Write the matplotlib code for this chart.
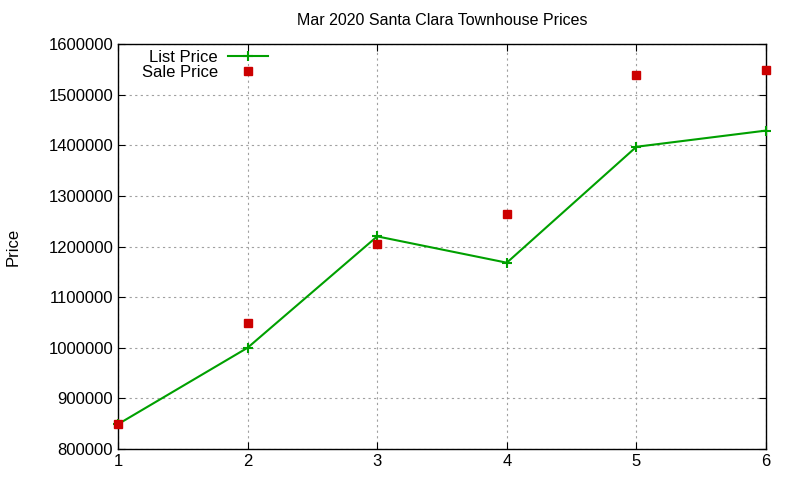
import matplotlib
matplotlib.use("Agg")
import matplotlib.pyplot as plt

plt.rcParams['font.family'] = ['Liberation Sans', 'DejaVu Sans']

# listing index vs prices
list_x = [1, 2, 3, 4, 5, 6]
list_price = [849000, 1000000, 1220000, 1168000, 1397000, 1429000]

sale_x = [1, 2, 3, 4, 5, 6]
sale_price = [849000, 1049000, 1205000, 1264000, 1539000, 1549000]

yticks = [800000, 900000, 1000000, 1100000, 1200000, 1300000, 1400000, 1500000, 1600000]

fig = plt.figure(figsize=(8, 4.8), dpi=100)
ax = fig.add_axes([0.1475, 0.0646, 0.81, 0.8437])

ax.plot(list_x, list_price, color='#00a000', linewidth=1.5, marker='+',
        markersize=7, markeredgewidth=1.5, label='List Price', zorder=3,
        clip_on=False)
ax.plot(sale_x, sale_price, linestyle='none', marker='s', color='#cc0000',
        markersize=6, label='Sale Price', zorder=4, clip_on=False)

ax.set_xlim(1, 6)
ax.set_ylim(800000, 1600000)
ax.set_xticks(list_x)
ax.set_yticks(yticks)
ax.set_yticklabels([str(v) for v in yticks])
ax.tick_params(direction='in', top=True, right=True, labelsize=12, length=5)
ax.grid(True, color='#a0a0a0', linestyle=(0, (2, 3)), linewidth=0.8)
ax.set_axisbelow(True)
for s in ax.spines.values():
    s.set_linewidth(1)

ax.set_ylabel('Price', fontsize=12, labelpad=20)
ax.set_title('Mar 2020 Santa Clara Townhouse Prices', fontsize=11.5, pad=14)

leg = ax.legend(loc='upper right', bbox_to_anchor=(268 / 800, 1 - 50 / 480),
                bbox_transform=fig.transFigure, frameon=False,
                markerfirst=False, fontsize=12, handlelength=2.4,
                handletextpad=0.6, labelspacing=0.0, borderpad=0,
                borderaxespad=0)
for t in leg.get_texts():
    t.set_ha('right')

fig.savefig('out.png', dpi=100)
